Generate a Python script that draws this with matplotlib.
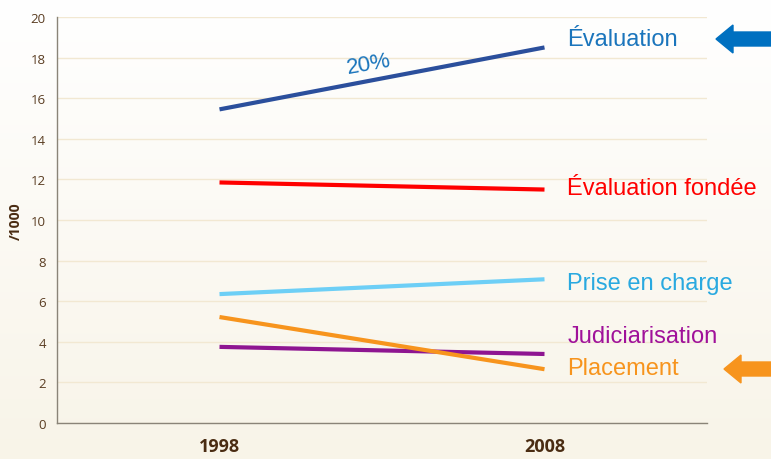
import numpy as np
import matplotlib
matplotlib.use("Agg")
import matplotlib.pyplot as plt
import matplotlib.patches as mpatches
from matplotlib.transforms import IdentityTransform

# Données
annees = ["1998", "2008"]
series = ["Évaluation", "Évaluation fondée", "Prise en charge", "Judiciarisation", "Placement"]
evaluation = [15.45, 18.5]
evaluation_fondee = [11.85, 11.5]
prise_en_charge = [6.35, 7.08]
judiciarisation = [3.75, 3.4]
placement = [5.22, 2.65]
valeurs = [evaluation, evaluation_fondee, prise_en_charge, judiciarisation, placement]

couleurs_lignes = ["#2b4f9c", "#ff0000", "#6dcff6", "#8e1591", "#f7941d"]
couleurs_textes = ["#1b75bc", "#ff0000", "#29a9e0", "#a0119a", "#f7941d"]
y_textes = [18.9, 11.6, 6.9, 4.3, 2.7]

fig = plt.figure(figsize=(7.71, 4.60), dpi=100)

# Fond dégradé
fond = fig.add_axes([0, 0, 1, 1], zorder=-10)
grad = np.linspace(0, 1, 256).reshape(-1, 1)
haut = np.array([1.0, 1.0, 1.0])
bas = np.array([0.973, 0.957, 0.910])
img = haut + (bas - haut) * grad[:, :, None]
fond.imshow(img, aspect="auto", extent=[0, 1, 0, 1])
fond.axis("off")

ax = fig.add_axes([57 / 771, 36 / 460, 650 / 771, 406 / 460])
ax.set_facecolor("none")

x = np.arange(len(annees))
for v, c in zip(valeurs, couleurs_lignes):
    ax.plot(x, v, color=c, linewidth=3, solid_capstyle="butt")

for nom, yt, c in zip(series, y_textes, couleurs_textes):
    ax.text(1.07, yt, nom, color=c, fontsize=17, family="Liberation Sans", va="center", ha="left")

ax.text(0.46, 17.7, "20%", color="#1b75bc", fontsize=16, family="Liberation Sans",
        rotation=10, ha="center", va="center")

ax.set_xlim(-0.5, 1.5)
ax.set_ylim(0, 20)
ax.set_yticks(np.arange(0, 21, 2))
ax.set_xticks(x)
ax.set_xticklabels(annees, fontsize=13, fontweight="bold", color="#4a2c12", family="Open Sans")
for t in ax.get_yticklabels():
    t.set_fontsize(9.5)
    t.set_color("#5a3d22")
    t.set_family("Open Sans")
ax.tick_params(axis="both", length=0)
ax.tick_params(axis="y", pad=8)
ax.tick_params(axis="x", pad=10)
ax.grid(axis="y", color="#f2e8d2", linewidth=1)
ax.set_axisbelow(True)
for s in ["top", "right"]:
    ax.spines[s].set_visible(False)
for s in ["left", "bottom"]:
    ax.spines[s].set_color("#8a8478")
    ax.spines[s].set_linewidth(1)
ax.set_ylabel("/1000", fontsize=10, fontweight="bold", color="#4a2c12", family="Open Sans", labelpad=6)

# Flèches
fleches = [(771, 420, "#0070c0"), (771, 90, "#f7941d")]
longueurs = [55, 47]
for (xa, ya, c), L in zip(fleches, longueurs):
    fl = mpatches.FancyArrow(xa, ya, -L, 0, width=14, head_width=28, head_length=17,
                             length_includes_head=True, color=c, transform=IdentityTransform())
    fig.patches.append(fl)

fig.savefig("out.png", dpi=100)
